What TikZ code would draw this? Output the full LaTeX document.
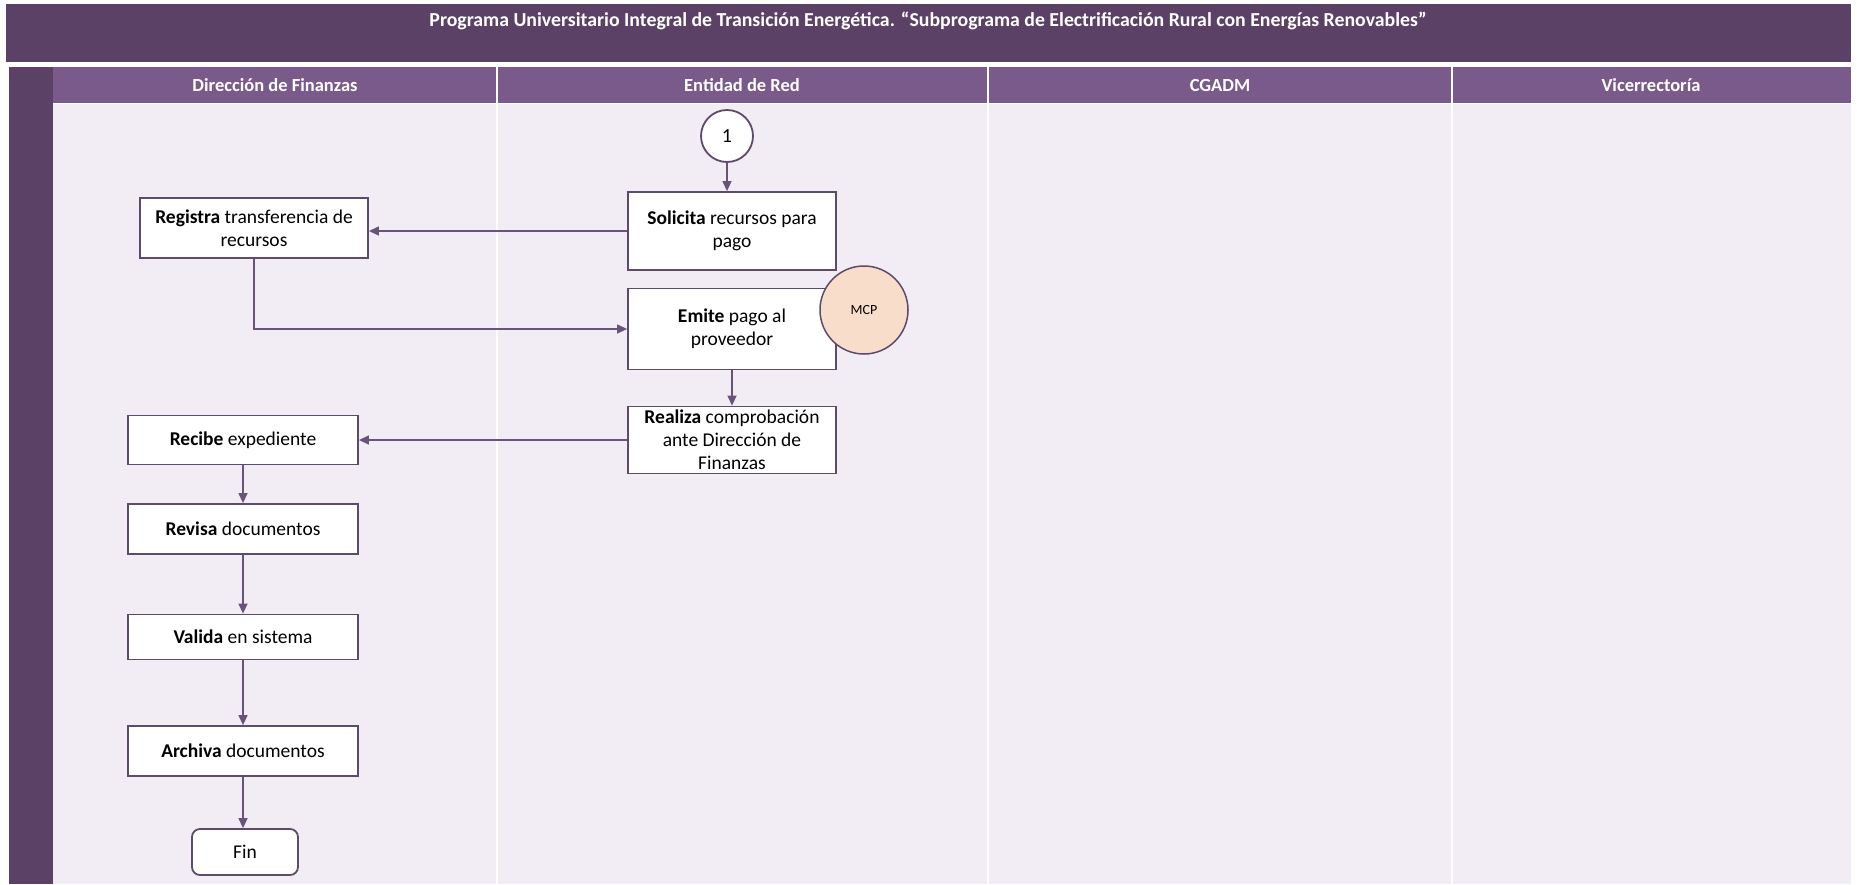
\documentclass[tikz,border=0pt]{standalone}
\usepackage{fontspec}
\setmainfont{Carlito}
\usetikzlibrary{arrows.meta}
\definecolor{titlebg}{HTML}{5B4166}
\definecolor{headbg}{HTML}{7A5A8B}
\definecolor{bodybg}{HTML}{F2ECF4}
\definecolor{boxline}{HTML}{5E4A6B}
\definecolor{arrowc}{HTML}{6A5378}
\definecolor{mcpfill}{HTML}{F9DDCB}
\tikzset{
  procbox/.style={draw=boxline, line width=1.8pt, fill=white, align=center, font=\fontsize{19.5}{23}\selectfont, inner sep=0pt},
  flow/.style={draw=arrowc, line width=1.3pt, -{Triangle[length=10pt,width=9pt]}},
  lanehead/.style={text=white, font=\fontsize{18.5}{22}\selectfont\bfseries},
  lanesep/.style={draw=white, line width=1.5pt}
}
\begin{document}
\begin{tikzpicture}[x=1pt,y=-1pt]
\useasboundingbox (0,0) rectangle (1857,884);
\fill[white] (0,0) rectangle (1857,884);
% title
\fill[titlebg] (6,4) rectangle (1851,62);
\node[text=white, font=\fontsize{19.8}{23}\selectfont\bfseries] (title) at (928,21) {Programa Universitario Integral de Transición Energética. “Subprograma de Electrificación Rural con Energías Renovables”};
% left strip
\fill[titlebg] (9,67) rectangle (53,884);
% headers and body
\fill[headbg] (53,67) rectangle (1851,103);
\fill[bodybg] (53,103) rectangle (1851,884);
\draw[lanesep] (497,67) -- (497,884);
\draw[lanesep] (988,67) -- (988,884);
\draw[lanesep] (1452,67) -- (1452,884);
\draw[draw=white, line width=1pt] (53,103) -- (1851,103);
\node[lanehead] (h1) at (275,85) {Dirección de Finanzas};
\node[lanehead] (h2) at (742,85) {Entidad de Red};
\node[lanehead] (h3) at (1220,85) {CGADM};
\node[lanehead] (h4) at (1651,85) {Vicerrectoría};
% nodes
\node[draw=boxline, line width=1.8pt, fill=white, circle, minimum size=52pt, inner sep=0pt, font=\fontsize{20}{22}\selectfont] (c1) at (727,136) {1};
\node[procbox, minimum width=208pt, minimum height=78pt] (sol) at (732,231) {\textbf{Solicita} recursos para\\pago};
\node[procbox, minimum width=228pt, minimum height=60pt] (reg) at (254,228) {\textbf{Registra} transferencia de\\recursos};
\node[procbox, minimum width=208pt, minimum height=81pt] (emi) at (732,329) {\textbf{Emite} pago al\\proveedor};
\node[draw=boxline, line width=1.5pt, fill=mcpfill, circle, minimum size=88pt, inner sep=0pt, font=\fontsize{14}{16}\selectfont] (mcp) at (864,310) {MCP};
\node[procbox, minimum width=208pt, minimum height=67pt] (rea) at (732,440) {\textbf{Realiza} comprobación\\ante Dirección de\\Finanzas};
\node[procbox, minimum width=230pt, minimum height=49pt] (rec) at (243,440) {\textbf{Recibe} expediente};
\node[procbox, minimum width=230pt, minimum height=50pt] (rev) at (243,529) {\textbf{Revisa} documentos};
\node[procbox, minimum width=230pt, minimum height=45pt] (val) at (243,637) {\textbf{Valida} en sistema};
\node[procbox, minimum width=230pt, minimum height=50pt] (arc) at (243,751) {\textbf{Archiva} documentos};
\node[procbox, rounded corners=8pt, minimum width=106pt, minimum height=46pt] (fin) at (245,852) {Fin};
% connectors
\draw[flow] (c1.south) -- (c1.south |- sol.north);
\draw[flow] (sol.west) -- (sol.west -| reg.east);
\draw[flow] (reg.south) |- (emi.west);
\draw[flow] (emi.south) -- (rea.north);
\draw[flow] (rea.west) -- (rec.east);
\draw[flow] (rec.south) -- (rev.north);
\draw[flow] (rev.south) -- (val.north);
\draw[flow] (val.south) -- (arc.north);
\draw[flow] (arc.south) -- (arc.south |- fin.north);
\end{tikzpicture}
\end{document}
